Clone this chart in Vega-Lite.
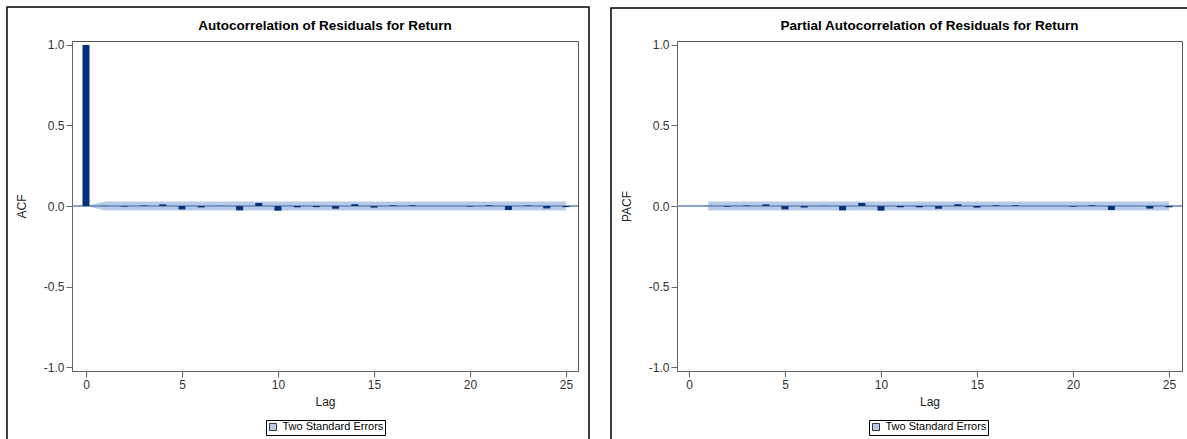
{
  "$schema": "https://vega.github.io/schema/vega-lite/v6.json",
  "autosize": {"type": "pad"},
  "padding": {"left": 5, "top": 5, "right": 0, "bottom": 0},
  "background": "white",
  "bounds": "flush",
  "spacing": 99,
  "config": {
    "font": "Liberation Sans",
    "view": {"stroke": "#555555", "strokeWidth": 1},
    "scale": {"continuousPadding": 0},
    "axis": {
      "grid": false,
      "domainColor": "#666666",
      "tickColor": "#666666",
      "tickSize": 6,
      "labelColor": "#333333",
      "labelFontSize": 12,
      "labelFlush": false,
      "titleFontSize": 12,
      "titleFontWeight": "normal",
      "titleColor": "#222222"
    },
    "legend": {
      "title": null,
      "orient": "none",
      "direction": "horizontal",
      "strokeColor": "black",
      "fillColor": "white",
      "padding": 1.5,
      "symbolType": "square",
      "symbolSize": 50,
      "symbolStrokeColor": "#333333",
      "symbolStrokeWidth": 1,
      "labelFontSize": 11,
      "labelColor": "black",
      "labelOffset": 4
    }
  },
  "resolve": {
    "scale": {"x": "independent", "y": "independent", "fill": "independent"},
    "legend": {"fill": "independent"}
  },
  "hconcat": [
    {
      "width": 506,
      "height": 330,
      "title": {"text": "Autocorrelation of Residuals for Return", "frame": "group", "anchor": "middle", "baseline": "alphabetic", "offset": -24.75, "dy": 13, "fontSize": 13.5, "fontWeight": "bold", "color": "black"},
      "layer": [
        {
          "data": {"values": [{}]},
          "mark": {"type": "rect", "fill": null, "stroke": "black", "strokeWidth": 1.5},
          "encoding": {
            "x": {"datum": -4.115, "type": "quantitative", "scale": {"domain": [-0.729, 25.625], "nice": false, "zero": false, "padding": 0}},
            "x2": {"datum": 26.198},
            "y": {"datum": 1.236, "type": "quantitative", "scale": {"domain": [-1.0248, 1.0248], "nice": false, "padding": 0}},
            "y2": {"datum": -1.47}
          }
        },
        {
          "data": {"values": [
            {"lag": 0, "lower": 0, "upper": 0, "series": "Two Standard Errors"},
            {"lag": 1, "lower": -0.028, "upper": 0.028, "series": "Two Standard Errors"},
            {"lag": 25, "lower": -0.028, "upper": 0.028, "series": "Two Standard Errors"}
          ]},
          "mark": {"type": "area", "opacity": 1},
          "encoding": {
            "x": {"field": "lag", "type": "quantitative", "scale": {"domain": [-0.729, 25.625], "nice": false, "zero": false, "padding": 0},
                  "axis": {"values": [0, 5, 10, 15, 20, 25], "title": "Lag", "titlePadding": 6}},
            "y": {"field": "upper", "type": "quantitative", "scale": {"domain": [-1.0248, 1.0248], "nice": false, "padding": 0},
                  "axis": {"values": [-1, -0.5, 0, 0.5, 1], "format": ".1f", "labelExpr": "replace(datum.label, '\u2212', '-')", "title": "ACF", "titlePadding": 15}},
            "y2": {"field": "lower"},
            "fill": {"field": "series", "type": "nominal", "scale": {"range": ["#b7cbe8"]},
                     "legend": {"legendX": 194, "legendY": 379}}
          }
        },
        {
          "data": {"values": [{}]},
          "mark": {"type": "rule", "color": "#6484b8", "strokeWidth": 1.5},
          "encoding": {"y": {"datum": 0, "type": "quantitative"}}
        },
        {
          "data": {"values": [
            {"lag": 0, "acf": 1.0}, {"lag": 1, "acf": 0.001}, {"lag": 2, "acf": -0.004}, {"lag": 3, "acf": 0.003},
            {"lag": 4, "acf": 0.010}, {"lag": 5, "acf": -0.021}, {"lag": 6, "acf": -0.009}, {"lag": 7, "acf": 0.001},
            {"lag": 8, "acf": -0.027}, {"lag": 9, "acf": 0.019}, {"lag": 10, "acf": -0.029}, {"lag": 11, "acf": -0.008},
            {"lag": 12, "acf": -0.007}, {"lag": 13, "acf": -0.017}, {"lag": 14, "acf": 0.011}, {"lag": 15, "acf": -0.010},
            {"lag": 16, "acf": 0.004}, {"lag": 17, "acf": 0.004}, {"lag": 18, "acf": 0.0}, {"lag": 19, "acf": 0.0},
            {"lag": 20, "acf": -0.003}, {"lag": 21, "acf": 0.004}, {"lag": 22, "acf": -0.025}, {"lag": 23, "acf": 0.003},
            {"lag": 24, "acf": -0.015}, {"lag": 25, "acf": -0.007}
          ]},
          "mark": {"type": "bar", "orient": "vertical", "size": 7, "color": "#04317a"},
          "encoding": {
            "x": {"field": "lag", "type": "quantitative"},
            "y": {"field": "acf", "type": "quantitative"}
          }
        }
      ]
    },
    {
      "width": 505,
      "height": 330,
      "title": {"text": "Partial Autocorrelation of Residuals for Return", "frame": "group", "anchor": "middle", "baseline": "alphabetic", "offset": -23.75, "dy": 13, "fontSize": 13.5, "fontWeight": "bold", "color": "black"},
      "layer": [
        {
          "data": {"values": [{}]},
          "mark": {"type": "rect", "fill": null, "stroke": "black", "strokeWidth": 1.5},
          "encoding": {
            "x": {"datum": -4.0625, "type": "quantitative", "scale": {"domain": [-0.625, 25.677], "nice": false, "zero": false, "padding": 0}},
            "x2": {"datum": 27.5},
            "y": {"datum": 1.2298, "type": "quantitative", "scale": {"domain": [-1.0248, 1.0248], "nice": false, "padding": 0}},
            "y2": {"datum": -1.47}
          }
        },
        {
          "data": {"values": [
            {"lag": 1, "lower": -0.028, "upper": 0.028, "series": "Two Standard Errors"},
            {"lag": 25, "lower": -0.028, "upper": 0.028, "series": "Two Standard Errors"}
          ]},
          "mark": {"type": "area", "opacity": 1},
          "encoding": {
            "x": {"field": "lag", "type": "quantitative", "scale": {"domain": [-0.625, 25.677], "nice": false, "zero": false, "padding": 0},
                  "axis": {"values": [0, 5, 10, 15, 20, 25], "title": "Lag", "titlePadding": 6}},
            "y": {"field": "upper", "type": "quantitative", "scale": {"domain": [-1.0248, 1.0248], "nice": false, "padding": 0},
                  "axis": {"values": [-1, -0.5, 0, 0.5, 1], "format": ".1f", "labelExpr": "replace(datum.label, '\u2212', '-')", "title": "PACF", "titlePadding": 15}},
            "y2": {"field": "lower"},
            "fill": {"field": "series", "type": "nominal", "scale": {"range": ["#b7cbe8"]},
                     "legend": {"legendX": 192, "legendY": 379}}
          }
        },
        {
          "data": {"values": [{}]},
          "mark": {"type": "rule", "color": "#6484b8", "strokeWidth": 1.5},
          "encoding": {"y": {"datum": 0, "type": "quantitative"}}
        },
        {
          "data": {"values": [
            {"lag": 1, "pacf": 0.001}, {"lag": 2, "pacf": -0.004}, {"lag": 3, "pacf": 0.003},
            {"lag": 4, "pacf": 0.010}, {"lag": 5, "pacf": -0.021}, {"lag": 6, "pacf": -0.009}, {"lag": 7, "pacf": 0.001},
            {"lag": 8, "pacf": -0.027}, {"lag": 9, "pacf": 0.019}, {"lag": 10, "pacf": -0.029}, {"lag": 11, "pacf": -0.008},
            {"lag": 12, "pacf": -0.008}, {"lag": 13, "pacf": -0.017}, {"lag": 14, "pacf": 0.011}, {"lag": 15, "pacf": -0.010},
            {"lag": 16, "pacf": 0.004}, {"lag": 17, "pacf": 0.004}, {"lag": 18, "pacf": 0.0}, {"lag": 19, "pacf": 0.0},
            {"lag": 20, "pacf": -0.004}, {"lag": 21, "pacf": 0.004}, {"lag": 22, "pacf": -0.025}, {"lag": 23, "pacf": 0.0},
            {"lag": 24, "pacf": -0.016}, {"lag": 25, "pacf": -0.008}
          ]},
          "mark": {"type": "bar", "orient": "vertical", "size": 7, "color": "#04317a"},
          "encoding": {
            "x": {"field": "lag", "type": "quantitative"},
            "y": {"field": "pacf", "type": "quantitative"}
          }
        }
      ]
    }
  ]
}
